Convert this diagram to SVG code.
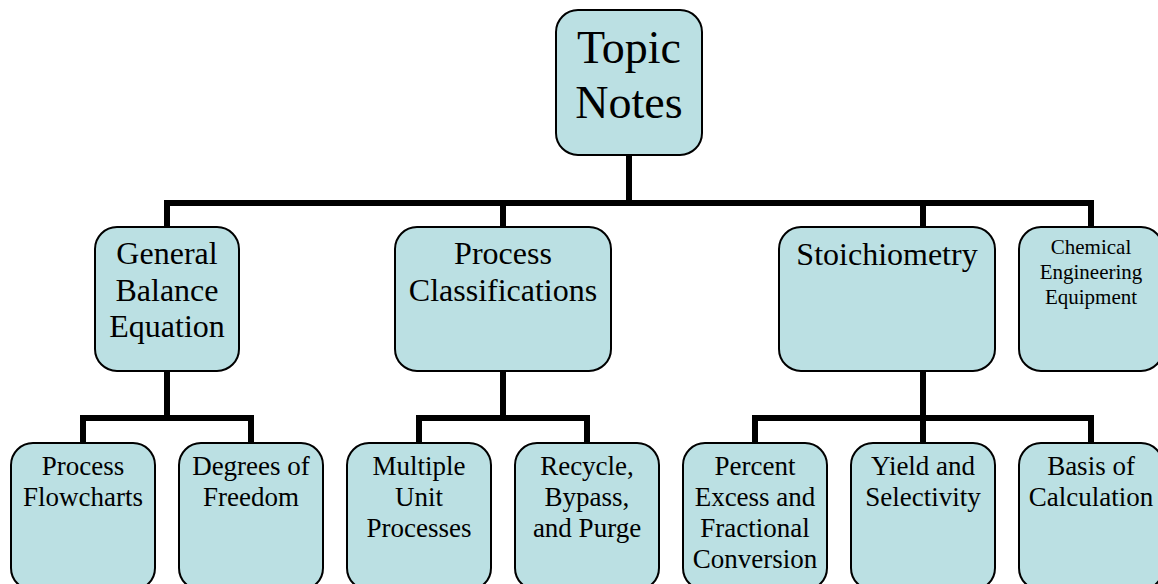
<svg xmlns="http://www.w3.org/2000/svg" width="1158" height="584" viewBox="0 0 1158 584">
<style>
.box{fill:#bbe0e3;stroke:#000;stroke-width:2}
.t{font-family:"Liberation Serif","Times New Roman",serif;fill:#000;text-anchor:middle}
.conn{fill:none;stroke:#000;stroke-width:6;stroke-linejoin:miter;stroke-linecap:butt}
</style>
<rect width="1158" height="584" fill="#fff"/>
<g id="connectors">
<path class="conn" d="M629,155 V203"/>
<path class="conn" d="M167,227 V203 H1091 V227"/>
<path class="conn" d="M503,203 V227"/>
<path class="conn" d="M923,203 V227"/>
<path class="conn" d="M167,371 V418"/>
<path class="conn" d="M83,443 V418 H251 V443"/>
<path class="conn" d="M503,371 V418"/>
<path class="conn" d="M419,443 V418 H587 V443"/>
<path class="conn" d="M923,371 V443"/>
<path class="conn" d="M755,443 V418 H1091 V443"/>
</g>
<g id="topic-notes">
<rect class="box" x="556" y="10" width="146" height="145" rx="22"/>
<text class="t" font-size="46" x="629" y="63">Topic</text>
<text class="t" font-size="46" x="629" y="118">Notes</text>
</g>
<g id="general-balance">
<rect class="box" x="95" y="227" width="144" height="144" rx="22"/>
<text class="t" font-size="32" x="167" y="264">General</text>
<text class="t" font-size="32" x="167" y="301">Balance</text>
<text class="t" font-size="32" x="167" y="337">Equation</text>
</g>
<g id="process-classifications">
<rect class="box" x="395" y="227" width="216" height="144" rx="22"/>
<text class="t" font-size="32" x="503" y="264">Process</text>
<text class="t" font-size="32" x="503" y="301">Classifications</text>
</g>
<g id="stoichiometry">
<rect class="box" x="779" y="227" width="216" height="144" rx="22"/>
<text class="t" font-size="32" x="887" y="265">Stoichiometry</text>
</g>
<g id="chem-eng-equipment">
<rect class="box" x="1019" y="227" width="144" height="144" rx="22"/>
<text class="t" font-size="21" x="1091" y="254">Chemical</text>
<text class="t" font-size="21" x="1091" y="279">Engineering</text>
<text class="t" font-size="21" x="1091" y="304">Equipment</text>
</g>
<g id="process-flowcharts">
<rect class="box" x="11" y="443" width="144" height="147" rx="22"/>
<text class="t" font-size="27" x="83" y="475">Process</text>
<text class="t" font-size="27" x="83" y="506">Flowcharts</text>
</g>
<g id="degrees-of-freedom">
<rect class="box" x="179" y="443" width="144" height="147" rx="22"/>
<text class="t" font-size="27" x="251" y="475">Degrees of</text>
<text class="t" font-size="27" x="251" y="506">Freedom</text>
</g>
<g id="multiple-unit">
<rect class="box" x="347" y="443" width="144" height="147" rx="22"/>
<text class="t" font-size="27" x="419" y="475">Multiple</text>
<text class="t" font-size="27" x="419" y="506">Unit</text>
<text class="t" font-size="27" x="419" y="537">Processes</text>
</g>
<g id="recycle-bypass-purge">
<rect class="box" x="515" y="443" width="144" height="147" rx="22"/>
<text class="t" font-size="27" x="587" y="475">Recycle,</text>
<text class="t" font-size="27" x="587" y="506">Bypass,</text>
<text class="t" font-size="27" x="587" y="537">and Purge</text>
</g>
<g id="percent-excess">
<rect class="box" x="683" y="443" width="144" height="147" rx="22"/>
<text class="t" font-size="27" x="755" y="475">Percent</text>
<text class="t" font-size="27" x="755" y="506">Excess and</text>
<text class="t" font-size="27" x="755" y="537">Fractional</text>
<text class="t" font-size="27" x="755" y="568">Conversion</text>
</g>
<g id="yield-selectivity">
<rect class="box" x="851" y="443" width="144" height="147" rx="22"/>
<text class="t" font-size="27" x="923" y="475">Yield and</text>
<text class="t" font-size="27" x="923" y="506">Selectivity</text>
</g>
<g id="basis-of-calculation">
<rect class="box" x="1019" y="443" width="144" height="147" rx="22"/>
<text class="t" font-size="27" x="1091" y="475">Basis of</text>
<text class="t" font-size="27" x="1091" y="506">Calculation</text>
</g>
</svg>
